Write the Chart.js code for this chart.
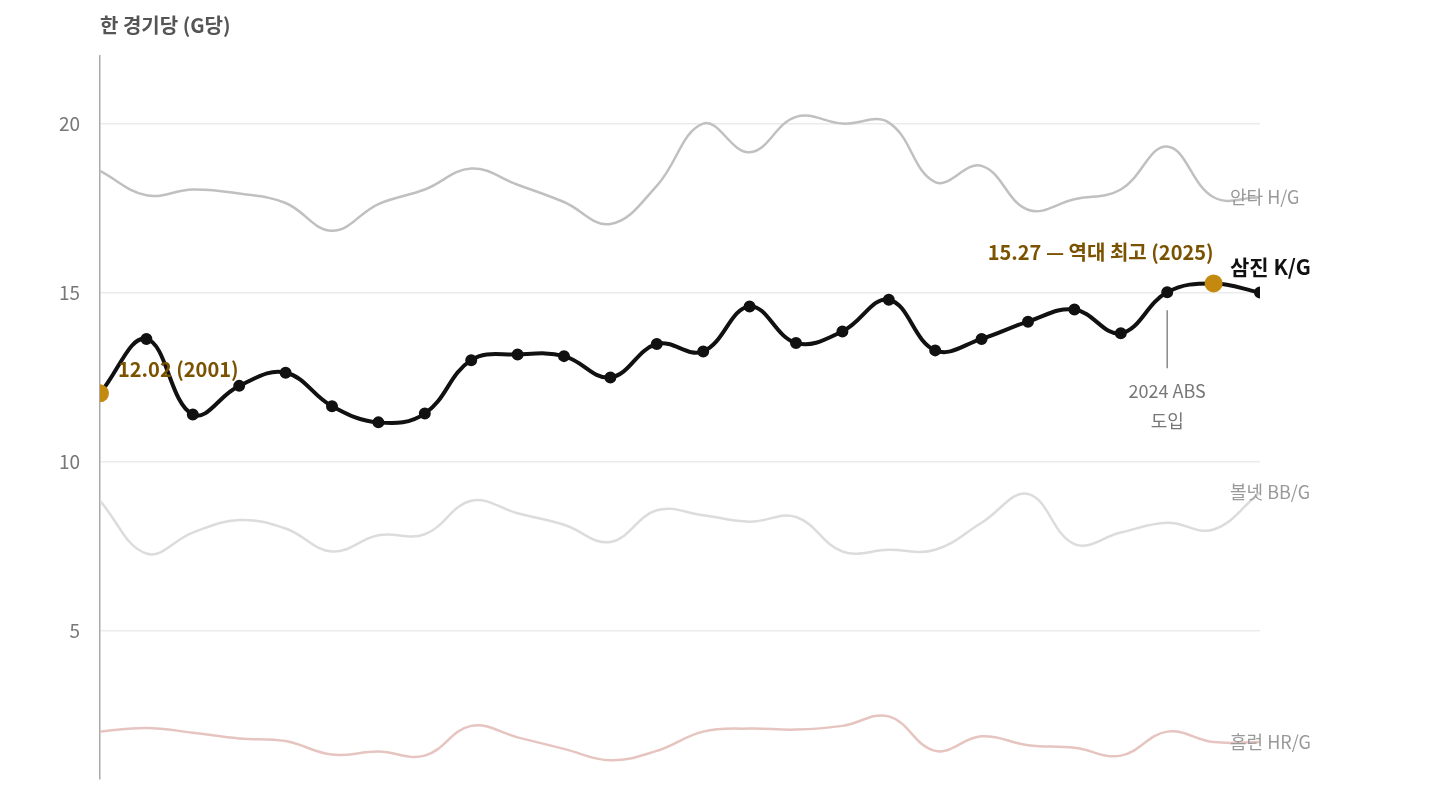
<!DOCTYPE html>
<html><head><meta charset="utf-8">
<script src="https://cdn.jsdelivr.net/npm/chart.js@4"></script>
<style>html,body{margin:0;padding:0;background:#fff;overflow:hidden}#w{width:1440px;height:810px;position:relative}</style>
</head><body><div id="w"><canvas id="c" width="1440" height="810"></canvas></div>
<script>
const years=[2001,2002,2003,2004,2005,2006,2007,2008,2009,2010,2011,2012,2013,2014,2015,2016,2017,2018,2019,2020,2021,2022,2023,2024,2025,2026];
const kPerGame=[12.02,13.63,11.39,12.24,12.63,11.64,11.16,11.42,13.0,13.17,13.12,12.49,13.48,13.26,14.59,13.51,13.85,14.79,13.29,13.63,14.14,14.50,13.80,15.01,15.27,15.0];
const hPerGame=[18.6,17.88,18.05,17.93,17.65,16.83,17.62,18.05,18.67,18.19,17.68,17.03,18.16,20.0,19.15,20.2,20.0,20.03,18.27,18.75,17.45,17.76,18.05,19.32,17.82,17.82];
const bbPerGame=[8.84,7.28,7.9,8.27,8.02,7.34,7.82,7.85,8.84,8.47,8.13,7.62,8.56,8.41,8.22,8.36,7.34,7.39,7.39,8.19,9.04,7.56,7.9,8.19,7.99,9.09];
const hrPerGame=[2.01,2.12,1.98,1.81,1.73,1.33,1.42,1.3,2.18,1.84,1.5,1.16,1.44,2.01,2.1,2.07,2.18,2.46,1.44,1.87,1.61,1.53,1.3,2.01,1.7,1.7];
const yTicks=[5,10,15,20];
const seriesLabels=['안타 H/G','삼진 K/G','볼넷 BB/G','홈런 HR/G'];
const gold='#c48a10', goldText='#7a5200';
const pts=a=>a.map((v,i)=>({x:years[i],y:v}));
const kColors=years.map(y=>(y===2001||y===2025)?gold:'#111');
const kRadius=years.map(y=>(y===2001||y===2025)?7:4);
const overlay={id:'ov',afterDatasetsDraw(ch){
  const c=ch.ctx,x=ch.scales.x,y=ch.scales.y;
  c.save();
  c.font='bold 20px "Noto Sans CJK KR"';c.fillStyle='#555';c.textBaseline='middle';c.textAlign='left';
  c.fillText('한 경기당 (G당)',100,25);
  const lx=x.getPixelForValue(2026)-30;
  const ds=[hPerGame,kPerGame,bbPerGame,hrPerGame];
  const offs=[0,-26,0,0];
  seriesLabels.forEach((t,i)=>{
    const last=ds[i][ds[i].length-1];
    if(i===1){c.font='bold 21px "Noto Sans CJK KR"';c.fillStyle='#111';}
    else{c.font='18px "Noto Sans CJK KR"';c.fillStyle='#999';}
    c.fillText(t,lx,y.getPixelForValue(last)+offs[i]);
  });
  c.font='bold 20px "Noto Sans CJK KR"';c.fillStyle=goldText;
  c.fillText('12.02 (2001)',x.getPixelForValue(2001)+18,y.getPixelForValue(12.02)-24);
  c.textAlign='right';
  c.fillText('15.27 — 역대 최고 (2025)',x.getPixelForValue(2025),y.getPixelForValue(15.27)-31);
  const ax=x.getPixelForValue(2024);
  c.strokeStyle='#888';c.lineWidth=1.5;c.beginPath();c.moveTo(ax,y.getPixelForValue(15.01)+18);c.lineTo(ax,y.getPixelForValue(15.01)+76);c.stroke();
  c.textAlign='center';c.font='18px "Noto Sans CJK KR"';c.fillStyle='#777';
  c.fillText('2024 ABS',ax,y.getPixelForValue(15.01)+99);
  c.fillText('도입',ax,y.getPixelForValue(15.01)+129);
  c.restore();
}};
new Chart(document.getElementById('c'),{
  type:'line',
  data:{datasets:[
    {data:pts(hrPerGame),borderColor:'#e6c4bf',borderWidth:2.5,pointRadius:0,tension:0.4},
    {data:pts(bbPerGame),borderColor:'#dcdcdc',borderWidth:2.5,pointRadius:0,tension:0.4},
    {data:pts(hPerGame),borderColor:'#c0c0c0',borderWidth:2.5,pointRadius:0,tension:0.4},
    {data:pts(kPerGame),borderColor:'#111',borderWidth:4,pointRadius:kRadius,pointBackgroundColor:kColors,pointBorderColor:kColors,tension:0.4}
  ]},
  options:{responsive:false,animation:false,devicePixelRatio:1,
    layout:{padding:{top:56,bottom:0,right:180,left:0}},
    plugins:{legend:{display:false},tooltip:{enabled:false}},
    scales:{
      x:{type:'linear',min:2001,max:2026,display:false},
      y:{min:0.62,max:22,afterFit:s=>{s.width=100;},
        afterBuildTicks:s=>{s.ticks=yTicks.map(v=>({value:v}));},
        grid:{color:'#ebebeb',lineWidth:1.5,drawTicks:false},
        border:{display:true,color:'#aaa',width:1.5},
        ticks:{padding:20,color:'#777',font:{size:19,family:'"Noto Sans CJK KR"'}}}
    }},
  plugins:[overlay]
});
</script></body></html>
